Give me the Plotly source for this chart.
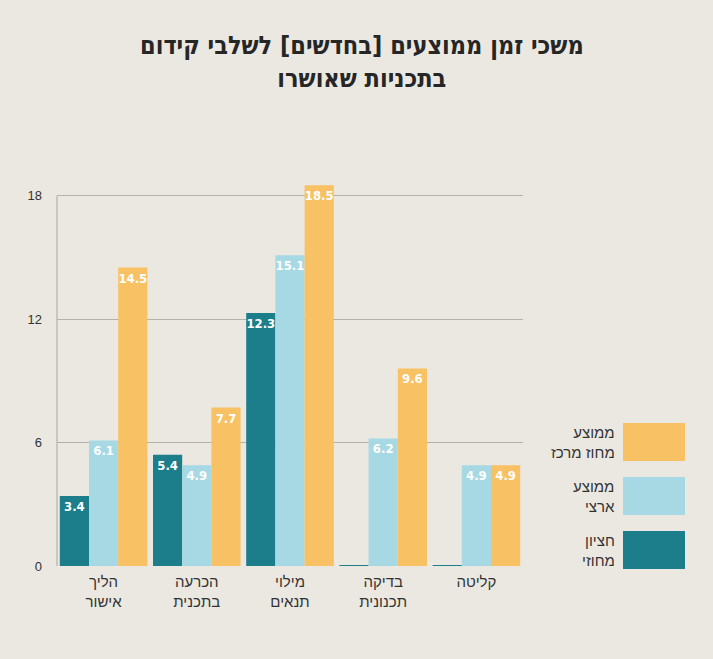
import plotly.graph_objects as go

categories = ["הליך<br>אישור", "הכרעה<br>בתכנית", "מילוי<br>תנאים", "בדיקה<br>תכנונית", "קליטה"]
series_names = ["חציון<br>מחוזי", "ממוצע<br>ארצי", "ממוצע<br>מחוז מרכז"]
district_median = [3.4, 5.4, 12.3, 0, 0]
national_avg = [6.1, 4.9, 15.1, 6.2, 4.9]
center_avg = [14.5, 7.7, 18.5, 9.6, 4.9]
series_values = [district_median, national_avg, center_avg]
colors = ["#1c7e8b", "#a6d9e3", "#f8c264"]
y_ticks = [0, 6, 12, 18]

title_lines = ["משכי זמן ממוצעים [בחדשים] לשלבי קידום", "בתכניות שאושרו"]

BG = "#ebe8e2"
TXT = "#333333"
COND = "DejaVu Sans Condensed, Liberation Sans Narrow, DejaVu Sans, sans-serif"

fig = go.Figure()
for name, vals, col in zip(series_names, series_values, colors):
    fig.add_trace(go.Bar(
        x=categories, y=vals, name=name,
        marker=dict(color=col, line=dict(color=col, width=[0 if v else 2 for v in vals])),
        text=[f"{v:.1f}" if v else "" for v in vals],
        textposition="inside", insidetextanchor="end", textangle=0,
        insidetextfont=dict(color="white", size=13, family=COND, weight="bold"),
        showlegend=False,
    ))

# vertical axis line from 0 to 18
fig.add_shape(type="line", xref="paper", yref="y", x0=0, x1=0, y0=0, y1=max(y_ticks),
              line=dict(color="#a9a7a2", width=1), layer="below")

fig.update_layout(
    width=713, height=659,
    margin=dict(l=57, r=190, t=175, b=93),
    paper_bgcolor=BG, plot_bgcolor=BG,
    barmode="group", bargap=0.06, bargroupgap=0,
    font=dict(family="Liberation Sans, Arial, sans-serif", color=TXT),
    uniformtext=dict(minsize=13, mode="show"),
    xaxis=dict(showgrid=False, showline=False, ticks="", tickfont=dict(size=15, color=TXT),
               ticklabelstandoff=5),
    yaxis=dict(range=[0, 19], tickvals=y_ticks, showgrid=True, gridcolor="#b3b1ac", gridwidth=1,
               zeroline=False, showline=False, ticks="", tickfont=dict(size=13, color=TXT),
               ticklabelstandoff=14),
)

# plot area in pixels for positioning legend (paper coords)
pl, pr, pt, pb = 57, 713 - 190, 175, 659 - 93
def px_to_paper_x(px):
    return (px - pl) / (pr - pl)
def px_to_paper_y(py):
    return (pb - py) / (pb - pt)

legend_order = [2, 1, 0]
legend_top = [423, 477, 531]
for idx, top in zip(legend_order, legend_top):
    fig.add_shape(type="rect", xref="paper", yref="paper",
                  x0=px_to_paper_x(623), x1=px_to_paper_x(685),
                  y0=px_to_paper_y(top + 38), y1=px_to_paper_y(top),
                  line=dict(width=0), fillcolor=colors[idx])
    fig.add_annotation(xref="paper", yref="paper", x=px_to_paper_x(617), y=px_to_paper_y(top + 19),
                       xanchor="right", yanchor="middle", align="right", showarrow=False,
                       text=series_names[idx], font=dict(size=15, color=TXT))

fig.add_annotation(xref="paper", yref="paper", x=px_to_paper_x(362), y=px_to_paper_y(62),
                   xanchor="center", yanchor="middle", showarrow=False, align="center",
                   text="<br>".join(f"<b>{t}</b>" for t in title_lines),
                   font=dict(size=25, color="#262626", family=COND))

fig.write_html("out.html")
